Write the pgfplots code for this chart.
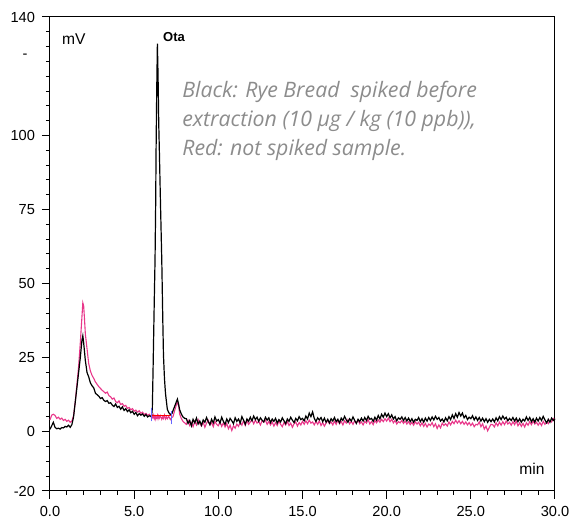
\documentclass[border=0pt]{standalone}
\usepackage{fontspec}
\setmainfont{Liberation Sans}
\newfontfamily\annfont{Open Sans}
\usepackage{pgfplots}
\pgfplotsset{compat=1.18}
\usepackage{pgfplotstable}
\definecolor{pinkline}{RGB}{232,55,138}
\definecolor{anngray}{RGB}{140,140,140}

% chromatogram: t (min), black = spiked, pink = not spiked (mV)
\pgfplotstableread{
t b p
0.0 0.8 4.0
0.1 2.0 5.6
0.2 3.2 5.9
0.3 1.5 5.5
0.4 1.0 4.5
0.5 1.2 4.9
0.6 0.9 4.2
0.7 1.4 4.6
0.8 1.3 3.8
0.9 1.8 4.2
1.0 1.6 3.5
1.1 2.2 3.9
1.2 1.5 3.2
1.3 2.4 3.6
1.4 5.0 5.5
1.5 10.0 10.0
1.6 15.0 16.0
1.7 20.0 22.0
1.8 25.0 30.0
1.9 31.0 39.0
1.95 32.4 43.5
2.0 30.0 42.5
2.05 27.0 38.0
2.1 24.0 33.0
2.2 20.0 28.0
2.3 18.5 23.0
2.4 16.5 20.5
2.5 15.5 19.0
2.6 14.8 18.0
2.7 13.0 16.8
2.8 12.5 16.0
2.9 12.0 15.2
3.0 11.2 14.6
3.1 11.5 14.0
3.2 10.6 13.5
3.3 10.2 13.0
3.4 10.5 13.4
3.5 9.6 12.2
3.6 9.8 11.8
3.7 9.0 11.0
3.8 8.5 11.4
3.9 9.4 10.2
4.0 8.2 9.8
4.1 8.6 10.4
4.2 7.6 9.2
4.3 8.4 9.5
4.4 7.2 8.6
4.5 7.8 8.9
4.6 6.8 7.9
4.7 7.4 8.2
4.8 6.4 7.4
4.9 6.9 7.8
5.0 5.9 6.9
5.1 6.5 7.3
5.2 5.4 6.6
5.3 6.1 7.1
5.4 5.6 6.2
5.5 6.0 6.6
5.6 5.2 5.8
5.7 5.8 6.2
5.8 5.0 5.5
5.9 5.4 5.9
6.0 5.2 5.1
6.04 5.5 4.6
6.08 8.0 5.4
6.12 20.0 4.8
6.16 33.0 5.6
6.20 46.0 4.5
6.24 58.0 5.2
6.28 78.0 4.3
6.30 94.0 5.0
6.34 115.0 4.7
6.38 131.0 5.5
6.42 120.0 4.4
6.46 104.0 5.3
6.50 94.0 4.6
6.56 78.0 5.4
6.64 58.0 4.2
6.70 38.0 5.1
6.74 26.0 4.5
6.80 18.0 5.6
6.86 13.0 4.3
6.92 10.0 5.0
6.97 7.6 4.4
7.05 6.5 5.2
7.15 5.8 4.1
7.25 6.2 4.9
7.3 7.0 5.0
7.4 8.5 7.0
7.5 10.0 9.0
7.57 11.0 10.0
7.65 9.0 8.5
7.7 7.5 6.0
7.8 6.0 4.5
7.9 5.0 3.5
8.0 4.5 3.0
8.1 4.4 2.5
8.2 2.8 3.9
8.3 3.8 2.1
8.4 2.0 3.1
8.5 4.2 1.7
8.6 3.0 3.5
8.7 4.6 2.3
8.8 2.6 4.1
8.9 3.6 2.7
9.0 2.2 1.9
9.1 4.0 3.3
9.2 3.2 1.5
9.3 4.8 2.9
9.4 3.4 3.9
9.5 2.4 2.3
9.6 4.2 3.1
9.7 3.0 1.7
9.8 5.0 3.5
9.9 3.6 2.5
10.0 4.1 2.0
10.1 2.9 3.4
10.2 4.9 1.8
10.3 3.5 3.0
10.4 2.5 1.6
10.5 4.3 2.8
10.6 3.1 1.0
10.7 4.5 2.2
10.8 3.7 0.4
10.9 2.7 2.0
11.0 4.7 1.2
11.1 3.5 2.6
11.2 4.3 1.8
11.3 2.9 3.2
11.4 5.1 2.2
11.5 3.9 3.8
11.6 2.5 2.1
11.7 4.3 3.7
11.8 3.5 2.5
11.9 4.9 3.3
12.0 3.7 4.1
12.1 5.3 2.7
12.2 4.1 3.9
12.3 4.9 2.9
12.4 3.5 3.5
12.5 4.7 2.3
12.6 3.9 3.7
12.7 3.3 3.3
12.8 4.9 3.9
12.9 3.9 2.5
13.0 4.7 3.5
13.1 3.1 2.3
13.2 4.3 3.3
13.3 3.5 1.9
13.4 4.5 3.1
13.5 2.9 2.1
13.6 4.1 3.7
13.7 3.3 2.5
13.8 4.7 1.7
13.9 3.7 3.1
14.0 2.7 2.3
14.1 4.3 3.5
14.2 3.5 2.1
14.3 4.9 2.9
14.4 3.9 1.5
14.5 3.1 2.7
14.6 4.5 3.3
14.7 3.7 1.9
14.8 5.1 3.1
14.9 4.1 2.3
15.0 4.5 3.5
15.1 3.7 2.5
15.2 5.3 3.7
15.3 4.3 2.7
15.4 6.3 3.9
15.5 5.1 2.9
15.6 6.7 3.3
15.7 4.5 2.3
15.8 3.5 3.5
15.9 4.7 2.5
16.0 4.0 3.7
16.1 4.8 2.1
16.2 3.4 3.1
16.3 4.6 1.9
16.4 3.2 2.9
16.5 4.2 3.9
16.6 3.0 2.7
16.7 4.4 3.3
16.8 3.6 2.3
16.9 4.8 3.5
17.0 3.4 2.5
17.1 4.2 3.9
17.2 3.0 2.7
17.3 4.6 3.5
17.4 3.8 2.3
17.5 5.2 3.7
17.6 4.0 2.9
17.7 3.2 4.1
17.8 4.4 2.7
17.9 3.6 3.5
18.0 5.0 2.5
18.1 3.8 3.7
18.2 2.8 2.9
18.3 4.2 3.9
18.4 3.4 2.7
18.5 4.6 3.3
18.6 3.6 2.3
18.7 4.8 3.5
18.8 3.8 2.9
18.9 5.2 4.1
19.0 4.2 2.6
19.1 4.5 3.4
19.2 3.5 2.4
19.3 4.9 3.8
19.4 3.9 3.0
19.5 5.5 4.0
19.6 4.3 3.2
19.7 5.9 4.2
19.8 4.9 3.4
19.9 6.3 4.4
20.0 5.1 3.6
20.1 6.1 4.6
20.2 4.7 3.4
20.3 5.7 4.2
20.4 4.3 3.0
20.5 5.1 3.8
20.6 3.7 2.6
20.7 4.7 3.4
20.8 4.2 3.0
20.9 5.0 3.8
21.0 3.8 2.8
21.1 4.8 3.6
21.2 3.6 2.6
21.3 4.6 3.4
21.4 3.4 2.4
21.5 4.4 3.2
21.6 3.2 2.2
21.7 4.2 3.4
21.8 3.8 2.6
21.9 4.8 3.2
22.0 3.4 2.0
22.1 4.4 3.0
22.2 3.2 1.8
22.3 4.6 2.8
22.4 3.6 1.6
22.5 4.8 2.6
22.6 3.8 2.1
22.7 5.0 3.1
22.8 4.0 1.7
22.9 5.2 2.7
23.0 4.2 1.1
23.1 4.8 2.3
23.2 3.6 1.3
23.3 4.3 2.9
23.4 3.3 2.1
23.5 4.7 2.7
23.6 3.7 1.9
23.7 5.1 3.3
23.8 4.1 2.3
23.9 5.7 3.5
24.0 4.5 2.7
24.1 6.1 3.9
24.2 4.9 2.9
24.3 6.5 3.7
24.4 5.3 2.7
24.5 6.3 3.5
24.6 4.7 2.5
24.7 5.5 3.3
24.8 4.1 2.3
24.9 4.9 3.1
25.0 4.4 2.1
25.1 5.4 2.9
25.2 4.0 1.7
25.3 5.0 2.5
25.4 3.8 2.3
25.5 4.8 3.3
25.6 3.6 1.7
25.7 4.6 2.7
25.8 3.4 0.9
25.9 4.4 1.9
26.0 3.2 0.3
26.1 4.2 1.5
26.2 3.4 2.5
26.3 4.3 2.4
26.4 3.3 1.6
26.5 4.7 3.0
26.6 3.7 2.0
26.7 5.1 3.2
26.8 4.1 2.2
26.9 5.3 3.4
27.0 4.3 2.4
27.1 4.9 3.6
27.2 3.7 2.6
27.3 4.5 3.2
27.4 3.8 2.2
27.5 4.8 3.4
27.6 3.6 2.4
27.7 4.6 3.6
27.8 3.4 2.0
27.9 4.4 3.0
28.0 3.2 1.8
28.1 4.2 2.8
28.2 3.6 1.6
28.3 5.0 3.0
28.4 3.8 2.2
28.5 4.8 3.4
28.6 3.4 2.4
28.7 4.4 3.6
28.8 3.2 2.6
28.9 4.6 3.2
29.0 3.6 2.2
29.1 4.8 3.1
29.2 3.8 2.1
29.3 5.2 3.5
29.4 4.0 2.5
29.5 3.0 3.3
29.6 4.2 2.7
29.7 3.2 3.9
29.8 4.6 3.3
29.9 3.8 4.5
30.0 4.4 4.1
}\chroma

\begin{document}
\begin{tikzpicture}
\begin{axis}[
    scale only axis, width=252.5pt, height=237pt,
    xmin=0, xmax=30, ymin=-20, ymax=140,
    xtick={0,5,...,30}, minor x tick num=4,
    ytick={-20,0,25,50,75,100,140},
    minor ytick={-15,-10,-5,5,10,15,20,30,35,40,45,55,60,65,70,80,85,90,95,105,110,115,120,125,130,135},
    tick pos=left, tick align=outside,
    major tick length=4pt, minor tick length=2pt,
    tick style={black, line width=0.5pt},
    axis line style={line width=0.5pt},
    ticklabel style={font=\fontsize{7.3}{8}\selectfont},
    /pgf/number format/assume math mode=true,
    xticklabel style={/pgf/number format/.cd, fixed, fixed zerofill, precision=1},
    yticklabel style={/pgf/number format/.cd, fixed, precision=0},
    clip=false
]
\addplot[pinkline, line width=0.55pt] table[x=t, y=p]{\chroma};
\addplot[black, line width=0.6pt] table[x=t, y=b]{\chroma};
\addplot[red, line width=0.5pt] coordinates {(6.04,5.5) (7.23,5.5)};
\addplot[blue!60, line width=0.5pt] coordinates {(6.02,3.5) (6.02,8)};
\addplot[blue!60, line width=0.5pt] coordinates {(7.23,2.5) (7.23,7)};

\node[xshift=-12.5pt, font=\fontsize{7.3}{8}\selectfont] at (axis cs:0,126.8) {-};
\node[anchor=west, inner sep=0, font=\fontsize{7.8}{9}\selectfont] at (axis cs:0.7,132.4) {mV};
\node[anchor=west, inner sep=0, font=\bfseries\fontsize{6.5}{8}\selectfont] at (axis cs:6.7,133.3) {Ota};
\node[anchor=east, inner sep=0, font=\fontsize{7.8}{9}\selectfont] at (axis cs:29.4,-12.6) {min};
\node[anchor=west, align=left, inner sep=0, text=anngray,
      font=\annfont\itshape\fontsize{10.65}{14.4}\selectfont] at (axis cs:7.84,105)
  {Black: Rye Bread\ \ spiked before\\extraction (10 µg / kg (10 ppb)),\\Red: not spiked sample.};
\end{axis}
\pgfresetboundingbox
\path ([xshift=-25pt, yshift=-13pt]current axis.south west) rectangle ([xshift=9.5pt, yshift=8.5pt]current axis.north east);
\end{tikzpicture}
\end{document}
